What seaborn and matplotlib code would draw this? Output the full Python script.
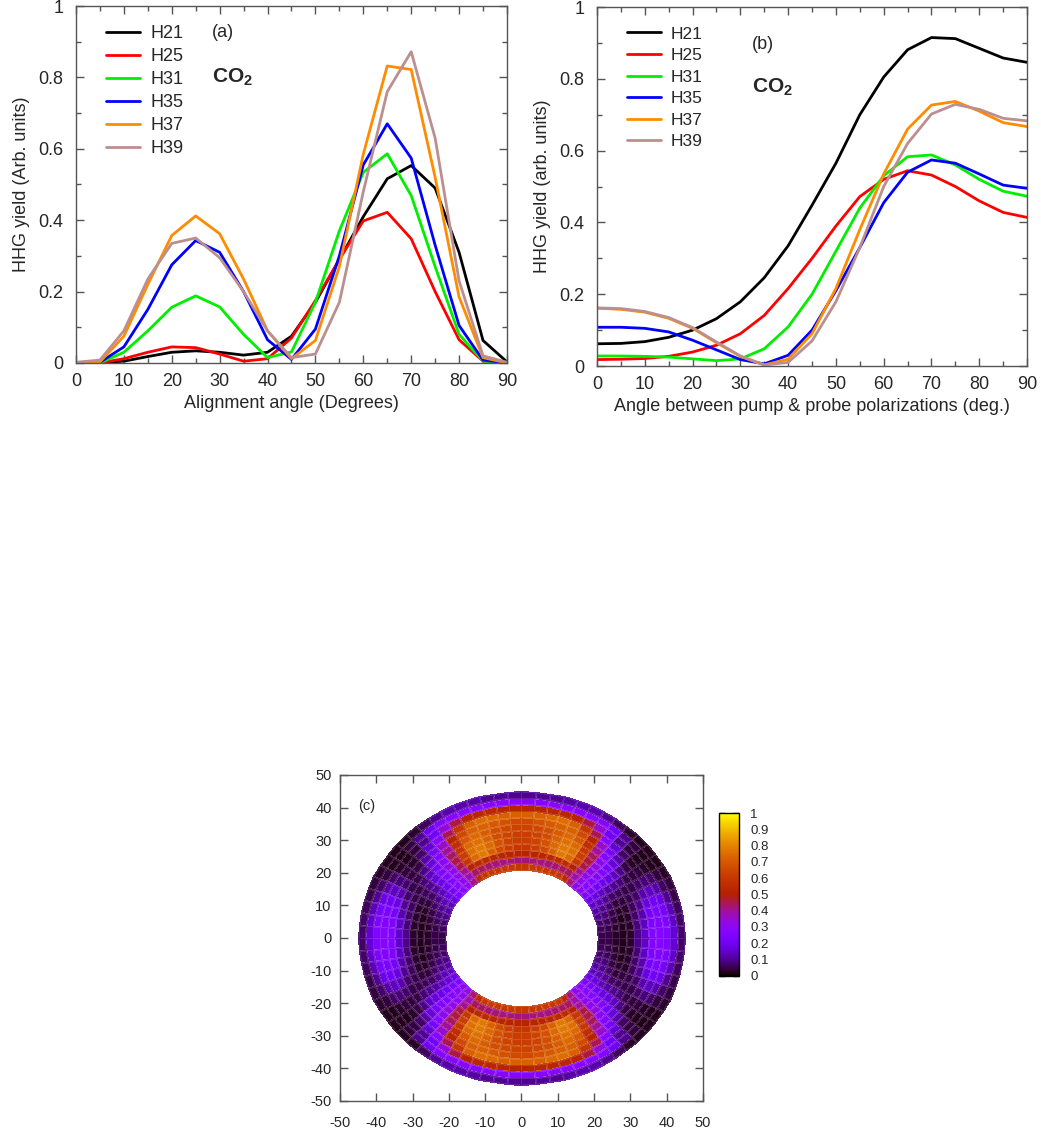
import numpy as np
import pandas as pd
import matplotlib
matplotlib.use("Agg")
import matplotlib.pyplot as plt
import seaborn as sns
from matplotlib.ticker import MultipleLocator, FuncFormatter

# ---- panel (a): yield vs alignment angle ----
angles = list(range(0, 95, 5))
harmonics = ["H21", "H25", "H31", "H35", "H37", "H39"]

a_h21 = [0.0, 0.001, 0.005, 0.018, 0.03, 0.034, 0.03, 0.022, 0.03, 0.075, 0.17, 0.29, 0.41, 0.516, 0.553, 0.49, 0.31, 0.063, 0.003]
a_h25 = [0.0, 0.0, 0.012, 0.03, 0.045, 0.043, 0.025, 0.005, 0.012, 0.07, 0.175, 0.29, 0.398, 0.422, 0.348, 0.2, 0.065, 0.005, 0.0]
a_h31 = [0.0, 0.0, 0.03, 0.09, 0.156, 0.188, 0.157, 0.08, 0.015, 0.031, 0.17, 0.37, 0.534, 0.586, 0.469, 0.27, 0.08, 0.005, 0.0]
a_h35 = [0.0, 0.002, 0.045, 0.15, 0.275, 0.343, 0.31, 0.2, 0.065, 0.01, 0.095, 0.3, 0.555, 0.67, 0.574, 0.33, 0.105, 0.008, 0.0]
a_h37 = [0.0, 0.003, 0.075, 0.22, 0.357, 0.412, 0.362, 0.235, 0.09, 0.012, 0.063, 0.27, 0.585, 0.832, 0.822, 0.52, 0.185, 0.015, 0.0]
a_h39 = [0.002, 0.008, 0.09, 0.235, 0.335, 0.35, 0.295, 0.2, 0.09, 0.015, 0.025, 0.17, 0.48, 0.76, 0.872, 0.63, 0.23, 0.02, 0.002]

# ---- panel (b): yield vs pump-probe angle ----
b_h21 = [0.062, 0.063, 0.068, 0.08, 0.1, 0.132, 0.179, 0.246, 0.335, 0.448, 0.565, 0.7, 0.805, 0.881, 0.915, 0.912, 0.885, 0.858, 0.846]
b_h25 = [0.018, 0.019, 0.021, 0.027, 0.039, 0.058, 0.09, 0.141, 0.216, 0.3, 0.39, 0.472, 0.52, 0.544, 0.532, 0.5, 0.46, 0.428, 0.414]
b_h31 = [0.028, 0.028, 0.027, 0.025, 0.02, 0.015, 0.02, 0.048, 0.109, 0.2, 0.32, 0.44, 0.53, 0.583, 0.588, 0.56, 0.52, 0.487, 0.473]
b_h35 = [0.108, 0.108, 0.105, 0.095, 0.072, 0.045, 0.018, 0.006, 0.03, 0.1, 0.21, 0.33, 0.455, 0.54, 0.574, 0.565, 0.535, 0.504, 0.495]
b_h37 = [0.161, 0.158, 0.15, 0.133, 0.105, 0.065, 0.027, 0.003, 0.019, 0.09, 0.216, 0.38, 0.535, 0.66, 0.727, 0.737, 0.71, 0.678, 0.667]
b_h39 = [0.162, 0.16, 0.152, 0.135, 0.107, 0.067, 0.028, 0.003, 0.01, 0.07, 0.179, 0.33, 0.5, 0.62, 0.702, 0.729, 0.715, 0.69, 0.683]

# ---- panel (c): polar map, first quadrant (rings 21..45 step 2, sectors of 5 deg) ----
ring_edges = list(range(21, 47, 2))
sector_edges = list(range(0, 365, 5))
quad = [
    [0.05, 0.06, 0.07, 0.09, 0.11, 0.14, 0.18, 0.24, 0.29, 0.32, 0.42, 0.55, 0.60, 0.60, 0.60, 0.60, 0.60, 0.60],
    [0.05, 0.05, 0.06, 0.08, 0.10, 0.13, 0.17, 0.23, 0.28, 0.31, 0.38, 0.44, 0.44, 0.43, 0.42, 0.42, 0.42, 0.42],
    [0.03, 0.03, 0.04, 0.05, 0.07, 0.10, 0.14, 0.20, 0.27, 0.31, 0.40, 0.50, 0.54, 0.54, 0.53, 0.52, 0.52, 0.52],
    [0.02, 0.02, 0.02, 0.03, 0.04, 0.07, 0.11, 0.18, 0.26, 0.32, 0.45, 0.60, 0.74, 0.78, 0.72, 0.66, 0.62, 0.60],
    [0.03, 0.03, 0.03, 0.03, 0.04, 0.06, 0.10, 0.17, 0.26, 0.33, 0.46, 0.62, 0.76, 0.78, 0.74, 0.68, 0.64, 0.62],
    [0.09, 0.08, 0.07, 0.06, 0.05, 0.05, 0.08, 0.14, 0.22, 0.30, 0.44, 0.60, 0.74, 0.76, 0.72, 0.67, 0.64, 0.62],
    [0.15, 0.14, 0.12, 0.10, 0.07, 0.05, 0.05, 0.09, 0.17, 0.27, 0.40, 0.56, 0.70, 0.74, 0.71, 0.67, 0.65, 0.64],
    [0.25, 0.24, 0.21, 0.17, 0.12, 0.07, 0.04, 0.05, 0.12, 0.22, 0.36, 0.52, 0.66, 0.72, 0.72, 0.70, 0.68, 0.66],
    [0.27, 0.26, 0.24, 0.20, 0.14, 0.08, 0.04, 0.03, 0.07, 0.16, 0.28, 0.45, 0.60, 0.72, 0.75, 0.74, 0.72, 0.72],
    [0.25, 0.24, 0.22, 0.18, 0.12, 0.07, 0.03, 0.02, 0.04, 0.10, 0.20, 0.34, 0.46, 0.52, 0.53, 0.53, 0.52, 0.52],
    [0.16, 0.15, 0.13, 0.10, 0.07, 0.04, 0.02, 0.02, 0.04, 0.10, 0.20, 0.27, 0.28, 0.28, 0.28, 0.28, 0.27, 0.27],
    [0.07, 0.07, 0.06, 0.05, 0.04, 0.03, 0.02, 0.02, 0.02, 0.03, 0.06, 0.10, 0.12, 0.12, 0.11, 0.10, 0.10, 0.10],
]

palette = {"H21": "#000000", "H25": "#ff0000", "H31": "#00ee00",
           "H35": "#0000ff", "H37": "#ff8c00", "H39": "#bc8f8f"}

sns.set_style("ticks")
plt.rcParams["font.family"] = ["Liberation Sans", "DejaVu Sans"]
plt.rcParams["mathtext.fontset"] = "custom"
plt.rcParams["mathtext.rm"] = "Liberation Sans"
plt.rcParams["mathtext.bf"] = "Liberation Sans:bold"
plt.rcParams["axes.unicode_minus"] = False

SPINE = "#555555"


def to_long(series_list):
    rows = []
    for name, vals in zip(harmonics, series_list):
        for ang, v in zip(angles, vals):
            rows.append({"angle": ang, "yield": v, "harm": name})
    return pd.DataFrame(rows)


def style_line_axes(ax):
    ax.set_xlim(0, 90)
    ax.set_ylim(0, 1)
    ax.xaxis.set_major_locator(MultipleLocator(10))
    ax.xaxis.set_minor_locator(MultipleLocator(5))
    ax.yaxis.set_major_locator(MultipleLocator(0.2))
    ax.yaxis.set_minor_locator(MultipleLocator(0.1))
    ax.yaxis.set_major_formatter(FuncFormatter(lambda v, _: f"{v:g}"))
    ax.tick_params(which="both", direction="in", top=True, right=True, color=SPINE)
    ax.tick_params(which="major", length=6, width=1, labelsize=13, pad=7)
    ax.tick_params(which="minor", length=3.5, width=1)
    ax.tick_params(axis="y", which="major", pad=9)
    for s in ax.spines.values():
        s.set_color(SPINE)
        s.set_linewidth(1)


fig = plt.figure(figsize=(10.41, 11.35), dpi=100)

# panel (a)
ax_a = fig.add_axes([0.0730, 0.6802, 0.4140, 0.3145])
sns.lineplot(data=to_long([a_h21, a_h25, a_h31, a_h35, a_h37, a_h39]), x="angle", y="yield",
             hue="harm", palette=palette, linewidth=2, errorbar=None, ax=ax_a)
style_line_axes(ax_a)
ax_a.set_xlabel("Alignment angle (Degrees)", fontsize=13, labelpad=4)
ax_a.set_ylabel("HHG yield (Arb. units)", fontsize=13, labelpad=6)
h, l = ax_a.get_legend_handles_labels()
ax_a.legend(h, l, loc="upper left", bbox_to_anchor=(0.07, 0.946), frameon=False, fontsize=13,
            borderpad=0, borderaxespad=0, handlelength=1.85, handletextpad=0.6, labelspacing=0.33)
ax_a.text(0.315, 0.925, "(a)", transform=ax_a.transAxes, fontsize=13, va="center")
ax_a.text(0.315, 0.80, r"$\mathbf{CO_2}$", transform=ax_a.transAxes, fontsize=15, va="center")

# panel (b)
ax_b = fig.add_axes([0.5735, 0.6775, 0.4131, 0.3163])
sns.lineplot(data=to_long([b_h21, b_h25, b_h31, b_h35, b_h37, b_h39]), x="angle", y="yield",
             hue="harm", palette=palette, linewidth=2, errorbar=None, ax=ax_b)
style_line_axes(ax_b)
ax_b.set_xlabel("Angle between pump & probe polarizations (deg.)", fontsize=13, labelpad=4)
ax_b.set_ylabel("HHG yield (arb. units)", fontsize=13, labelpad=6)
h, l = ax_b.get_legend_handles_labels()
ax_b.legend(h, l, loc="upper left", bbox_to_anchor=(0.07, 0.946), frameon=False, fontsize=12.5,
            borderpad=0, borderaxespad=0, handlelength=1.95, handletextpad=0.55, labelspacing=0.37)
ax_b.text(0.36, 0.895, "(b)", transform=ax_b.transAxes, fontsize=13, va="center")
ax_b.text(0.36, 0.775, r"$\mathbf{CO_2}$", transform=ax_b.transAxes, fontsize=15, va="center")

# panel (c)
ax_c = fig.add_axes([0.3266, 0.0300, 0.3487, 0.2872])
full = np.array([q + q[::-1] + q + q[::-1] for q in quad])
T, R = np.meshgrid(np.deg2rad(sector_edges), ring_edges)
X = R * np.cos(T)
Y = R * np.sin(T)
mesh = ax_c.pcolormesh(X, Y, full, cmap="gnuplot", vmin=0, vmax=1, shading="flat",
                       edgecolors=(1, 1, 1, 0.13), linewidth=0.5)
ax_c.set_xlim(-50, 50)
ax_c.set_ylim(-50, 50)
ax_c.xaxis.set_major_locator(MultipleLocator(10))
ax_c.yaxis.set_major_locator(MultipleLocator(10))
ax_c.tick_params(direction="in", top=True, right=True, length=6, width=1, color=SPINE,
                 labelsize=10.5, pad=6)
ax_c.tick_params(axis="x", pad=11)
for s in ax_c.spines.values():
    s.set_color(SPINE)
    s.set_linewidth(1)
ax_c.text(0.05, 0.905, "(c)", transform=ax_c.transAxes, fontsize=10.5, va="center")

cax = fig.add_axes([0.6910, 0.1404, 0.0189, 0.1431])
cb = fig.colorbar(mesh, cax=cax, ticks=np.arange(0, 1.01, 0.1))
cb.ax.set_yticklabels([f"{v:g}" for v in np.round(np.arange(0, 1.01, 0.1), 1)])
cb.ax.tick_params(direction="in", left=True, right=True, length=4, width=1, labelsize=9.5, pad=8)
cb.outline.set_edgecolor("black")
cb.outline.set_linewidth(1)

fig.savefig("out.png", dpi=100, facecolor="white")
